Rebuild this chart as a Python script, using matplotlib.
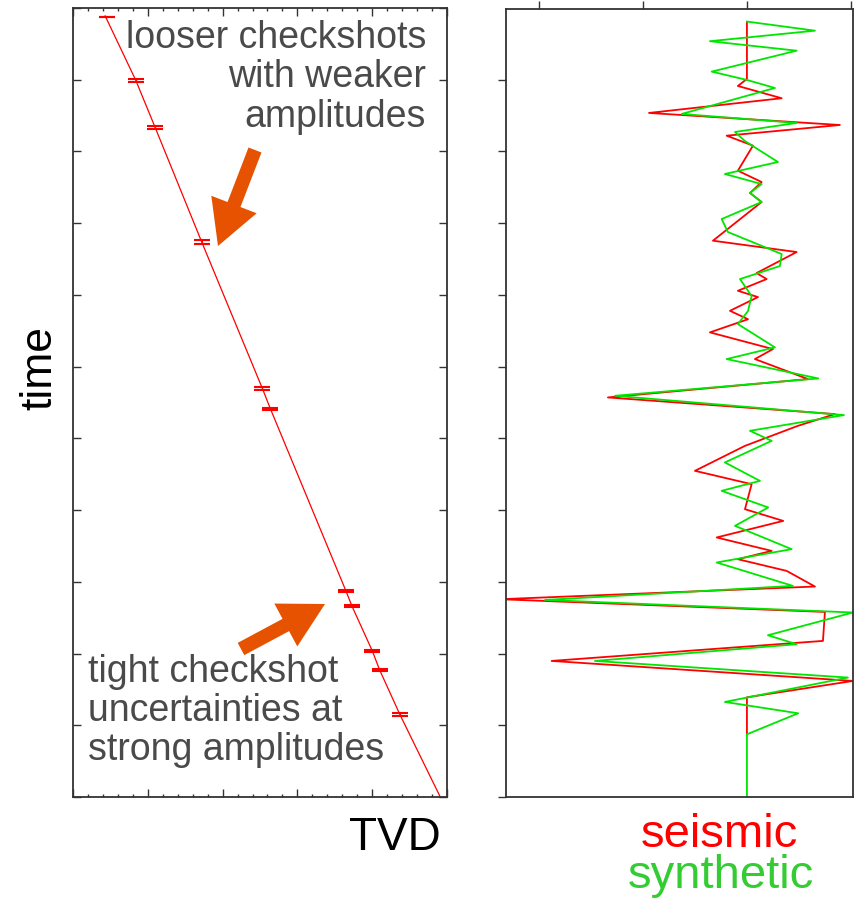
import numpy as np
import matplotlib
matplotlib.use('Agg')
import matplotlib.pyplot as plt
from matplotlib.patches import FancyArrowPatch
from matplotlib.ticker import MultipleLocator

# time-depth curve (TVD vs time, arbitrary units)
curve_tvd = [0.43, 0.84, 1.10, 1.72, 2.53, 2.64, 3.65, 3.73, 4.00, 4.10, 4.37, 4.91]
curve_time = [0.11, 1.01, 1.67, 3.26, 5.30, 5.59, 8.13, 8.34, 8.96, 9.23, 9.85, 11.0]

# checkshots with time uncertainty
cs_tvd = [0.46, 0.84, 1.10, 1.72, 2.53, 2.64, 3.65, 3.73, 4.00, 4.10, 4.37]
cs_time = [0.12, 1.01, 1.67, 3.26, 5.30, 5.59, 8.13, 8.34, 8.96, 9.23, 9.85]
cs_err = [0.0, 0.02, 0.02, 0.032, 0.02, 0.02, 0.015, 0.015, 0.015, 0.015, 0.025]

# synthetic trace (time, amplitude)
syn_t = [0.19, 0.317, 0.464, 0.596, 0.888, 1.004, 1.116, 1.478, 1.604, 1.729, 1.855,
         2.148, 2.315, 2.455, 2.58, 2.706, 2.943, 3.124, 3.431, 3.598, 3.78, 4.017,
         4.226, 4.407, 4.732, 4.895, 5.165, 5.407, 5.676, 5.895, 6.035, 6.336, 6.593,
         6.732, 6.964, 7.22, 7.545, 7.731, 8.057, 8.253, 8.428, 8.745, 8.87, 9.103,
         9.335, 9.675, 9.833, 10.126, 11.0]
syn_a = [0.0, 0.654, -0.356, 0.478, -0.339, 0.0, 0.269, -0.628, 0.478, -0.115, -0.02,
         0.298, -0.212, 0.141, 0.03, 0.141, -0.243, -0.183, 0.334, 0.317, -0.067, 0.045,
         0.01, -0.087, 0.269, -0.195, 0.686, -1.269, 0.933, 0.029, 0.238, -0.212, 0.125,
         -0.243, 0.205, -0.115, 0.43, -0.291, 0.442, -1.942, 1.02, 0.202, 0.478, -1.462,
         0.971, -0.212, 0.493, 0.0, 0.0]

# seismic trace (time, amplitude)
seis_t = [0.195, 0.99, 1.088, 1.259, 1.464, 1.632, 1.781, 1.92, 2.269, 2.427, 2.58,
          2.706, 3.245, 3.403, 3.696, 3.78, 3.943, 4.031, 4.222, 4.34, 4.523, 4.756,
          4.895, 5.174, 5.43, 5.662, 5.826, 6.105, 6.453, 6.639, 6.988, 7.151, 7.382,
          7.569, 7.685, 7.848, 8.066, 8.243, 8.42, 8.824, 9.103, 9.382, 9.61, 10.126]
seis_a = [0.0, 0.0, -0.087, 0.334, -0.942, 0.894, -0.195, 0.058, -0.087, 0.141, 0.03,
          0.141, -0.327, 0.478, 0.093, 0.189, -0.087, 0.106, -0.163, 0.01, -0.356, 0.25,
          0.077, 0.587, -1.337, 0.846, 0.49, -0.019, -0.5, 0.045, -0.019, 0.349, -0.291,
          0.238, -0.087, 0.382, 0.654, -2.375, 0.75, 0.731, -1.878, 1.02, 0.0, 0.0]

W, H = 857, 904
fig = plt.figure(figsize=(W / 100, H / 100), dpi=100)

fam = ['Liberation Sans', 'DejaVu Sans']
gray = '#4a4a4a'
orange = '#e65200'

def fx(px):
    return px / W

def fy(py):
    return 1 - py / H

ax1 = fig.add_axes([fx(73), fy(798), (447 - 73) / W, (798 - 9) / H])
ax2 = fig.add_axes([fx(506), fy(798), (853 - 506) / W, (798 - 10) / H])

# left panel
ax1.plot(curve_tvd, curve_time, color='red', lw=0.9)
ax1.errorbar(cs_tvd, cs_time, yerr=cs_err, fmt='none', ecolor='red',
             elinewidth=0.9, capsize=5.5, capthick=1.5)
ax1.set_xlim(0, 5)
ax1.set_ylim(11, 0)
ax1.set_xticks(range(6))
ax1.xaxis.set_minor_locator(MultipleLocator(0.2))
ax1.set_yticks(range(12))
ax1.tick_params(which='both', direction='in', top=True, right=True,
                labelbottom=False, labelleft=False, color='#333333', width=1)
ax1.tick_params(which='major', length=6)
ax1.tick_params(which='minor', length=2.5)

# right panel
ax2.plot(seis_a, seis_t, color='#ff0000', lw=1.3)
ax2.plot(syn_a, syn_t, color='#00e600', lw=1.3)
ax2.set_xlim(-2.317, 1.02)
ax2.set_ylim(11, 0.015)
ax2.set_xticks([-2, -1, 0, 1])
ax2.set_yticks(range(1, 12))
ax2.tick_params(direction='out', top=True, bottom=False, right=False, left=True,
                labelbottom=False, labelleft=False, length=5.5, width=1,
                color='#333333')

for ax in (ax1, ax2):
    for s in ax.spines.values():
        s.set_color('#333333')
        s.set_linewidth(1.3)

# labels
fig.text(fx(40), fy(368), 'time', rotation=90, ha='center', va='center',
         fontsize=32, family=fam)
fig.text(fx(441), fy(850), 'TVD', ha='right', va='baseline', fontsize=33,
         family=fam)
fig.text(fx(719), fy(847), 'seismic', ha='center', va='baseline', fontsize=34,
         color='#ff0000', family=fam)
fig.text(fx(721), fy(888), 'synthetic', ha='center', va='baseline', fontsize=34,
         color='#33cc33', family=fam)

fig.text(fx(426), fy(127), 'looser checkshots\nwith weaker\namplitudes', ha='right',
         va='baseline', fontsize=27, color=gray, family=fam, linespacing=1.13,
         multialignment='right')
fig.text(fx(88), fy(760), 'tight checkshot\nuncertainties at\nstrong amplitudes',
         ha='left', va='baseline', fontsize=27, color=gray, family=fam,
         linespacing=1.1)

# arrows
for tail, tip in [((255, 151), (218, 247)), ((241, 650), (325, 605))]:
    fig.add_artist(FancyArrowPatch(
        (fx(tail[0]), fy(tail[1])), (fx(tip[0]), fy(tip[1])),
        transform=fig.transFigure,
        arrowstyle='simple,head_length=32,head_width=35,tail_width=10',
        mutation_scale=1, color=orange, lw=0, shrinkA=0, shrinkB=0))

fig.savefig('out.png', dpi=100)
